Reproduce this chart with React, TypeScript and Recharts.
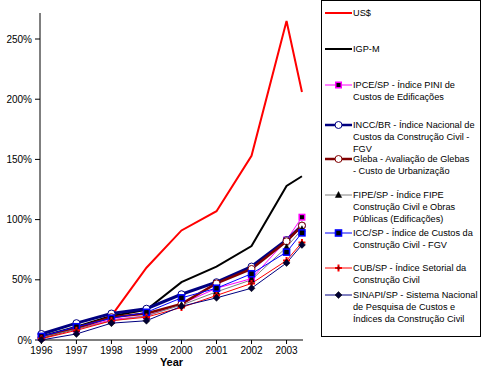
import React from 'react';
import { LineChart, Line, XAxis, YAxis, Legend } from 'recharts';

// ---- data (percent) ----
const YEARS = [1996, 1997, 1998, 1999, 2000, 2001, 2002, 2003, 2003.44];
const X_TICKS = [1996, 1997, 1998, 1999, 2000, 2001, 2002, 2003];
const Y_TICKS = [0, 50, 100, 150, 200, 250];

const USD = [2, 10, 20, 60, 91, 107, 153, 265, 206];
const IGPM = [3, 11, 20, 25, 48, 61, 78, 128, 136];
const IPCE = [2, 9, 17, 20, 30, 43, 51, 83, 102];
const INCC = [5, 14, 22, 26, 38, 48, 61, 83, 95];
const GLEBA = [2, 10, 19, 22, 30, 47, 59, 82, 95];
const FIPE = [2, 9, 16, 20, 29, 40, 50, 77, 92];
const ICC = [3, 11, 18, 23, 35, 43, 55, 73, 89];
const CUB = [1, 8, 16, 19, 27, 37, 47, 66, 81];
const SINAPI = [0, 5, 14, 16, 28, 35, 43, 64, 79];

const NAMES = [
  'US$',
  'IGP-M',
  'IPCE/SP - Índice PINI de\nCustos de Edificações',
  'INCC/BR - Índice Nacional de\nCustos da Construção Civil -\nFGV',
  'Gleba - Avaliação de Glebas\n- Custo de Urbanização',
  'FIPE/SP - Índice FIPE\nConstrução Civil e Obras\nPúblicas (Edificações)',
  'ICC/SP - Índice de Custos da\nConstrução Civil - FGV',
  'CUB/SP - Índice Setorial da\nConstrução Civil',
  'SINAPI/SP - Sistema Nacional\nde Pesquisa de Custos e\nÍndices da Construção Civil',
];

type MarkerKind = 'none' | 'pinkSquare' | 'circle' | 'triangle' | 'blueSquare' | 'cross' | 'diamond';

const SERIES: { key: string; name: string; values: number[]; color: string; width: number; marker: MarkerKind }[] = [
  { key: 'usd', name: NAMES[0], values: USD, color: '#FF0000', width: 2, marker: 'none' },
  { key: 'igpm', name: NAMES[1], values: IGPM, color: '#000000', width: 2, marker: 'none' },
  { key: 'ipce', name: NAMES[2], values: IPCE, color: '#FF00FF', width: 1, marker: 'pinkSquare' },
  { key: 'incc', name: NAMES[3], values: INCC, color: '#000080', width: 3, marker: 'circle' },
  { key: 'gleba', name: NAMES[4], values: GLEBA, color: '#800000', width: 2.5, marker: 'circle' },
  { key: 'fipe', name: NAMES[5], values: FIPE, color: '#808080', width: 1, marker: 'triangle' },
  { key: 'icc', name: NAMES[6], values: ICC, color: '#0000FF', width: 1, marker: 'blueSquare' },
  { key: 'cub', name: NAMES[7], values: CUB, color: '#FF0000', width: 1, marker: 'cross' },
  { key: 'sinapi', name: NAMES[8], values: SINAPI, color: '#000080', width: 1, marker: 'diamond' },
];

const rows = YEARS.map((x, i) => {
  const r: Record<string, number> = { x };
  SERIES.forEach((s) => {
    r[s.key] = s.values[i];
  });
  return r;
});

// legend first-line centres (styling)
const LEGEND_Y = [13, 49, 85, 125, 159, 195, 233, 268, 295];

const FONT = '"Liberation Sans", Arial, sans-serif';

function drawMarker(kind: MarkerKind, cx: number, cy: number, color: string, key?: string) {
  switch (kind) {
    case 'pinkSquare':
      return <rect key={key} x={cx - 2.75} y={cy - 2.75} width={5.5} height={5.5} fill="#000" stroke="#FF00FF" strokeWidth={1.5} />;
    case 'circle':
      return <circle key={key} cx={cx} cy={cy} r={3.5} fill="#fff" stroke={color} strokeWidth={1} />;
    case 'triangle':
      return <polygon key={key} points={`${cx},${cy - 3.5} ${cx + 3.2},${cy + 2.5} ${cx - 3.2},${cy + 2.5}`} fill="#000" stroke="#000" strokeWidth={0.5} />;
    case 'blueSquare':
      return <rect key={key} x={cx - 3} y={cy - 3} width={6} height={6} fill="#000" stroke="#0000FF" strokeWidth={1.6} />;
    case 'cross':
      return (
        <g key={key}>
          <path d={`M${cx - 3.5},${cy} H${cx + 3.5} M${cx},${cy - 3.5} V${cy + 3.5}`} stroke="#FF0000" strokeWidth={2} />
          <polygon points={`${cx},${cy - 2} ${cx + 2},${cy} ${cx},${cy + 2} ${cx - 2},${cy}`} fill="#800000" />
        </g>
      );
    case 'diamond':
      return <polygon key={key} points={`${cx},${cy - 3.5} ${cx + 3.5},${cy} ${cx},${cy + 3.5} ${cx - 3.5},${cy}`} fill="#000033" stroke="#000" strokeWidth={0.5} />;
    default:
      return <g key={key} />;
  }
}

function LegendBox() {
  return (
    <div
      style={{
        position: 'relative',
        boxSizing: 'border-box',
        width: 160,
        height: 337,
        border: '1px solid #000',
        background: '#fff',
        fontFamily: FONT,
        fontSize: 9.2,
        color: '#000',
      }}
    >
      {SERIES.map((s, i) => {
        const cy = LEGEND_Y[i] - 1;
        return (
          <React.Fragment key={s.key}>
            <svg style={{ position: 'absolute', left: 3, top: cy - 6, overflow: 'visible' }} width={27} height={12}>
              <line x1={0} y1={6} x2={27} y2={6} stroke={s.color} strokeWidth={s.width > 2 ? 2.5 : s.width} />
              {drawMarker(s.marker, 13.5, 6, s.color)}
            </svg>
            <div
              style={{
                position: 'absolute',
                left: 31,
                top: cy - 6,
                lineHeight: '12px',
                whiteSpace: 'pre',
              }}
            >
              {s.name}
            </div>
          </React.Fragment>
        );
      })}
    </div>
  );
}

export default function App() {
  return (
    <div style={{ position: 'absolute', left: 0, top: 0, width: 484, height: 377, background: '#fff', fontFamily: FONT }}>
      <LineChart width={484} height={377} data={rows} margin={{ top: 13, right: 181, bottom: 0, left: 0 }}>
        <XAxis
          type="number"
          dataKey="x"
          domain={[1995.96, 2003.47]}
          ticks={X_TICKS}
          interval={0}
          height={37}
          tickSize={4}
          tickMargin={3}
          axisLine={{ stroke: '#000' }}
          tickLine={{ stroke: '#000' }}
          tick={{ fill: '#000', fontSize: 10, fontFamily: FONT }}
          label={{ value: 'Year', position: 'insideBottom', offset: 11, style: { fontWeight: 'bold', fontSize: 11, fill: '#000', fontFamily: FONT } }}
        />
        <YAxis
          type="number"
          domain={[0, 271.6]}
          ticks={Y_TICKS}
          width={40}
          tickSize={5}
          tickMargin={3}
          tickFormatter={(v: number) => `${v}%`}
          axisLine={{ stroke: '#000' }}
          tickLine={{ stroke: '#000' }}
          tick={{ fill: '#000', fontSize: 10, fontFamily: FONT }}
        />
        {SERIES.map((s) => (
          <Line
            key={s.key}
            type="linear"
            dataKey={s.key}
            name={s.name}
            stroke={s.color}
            strokeWidth={s.width}
            isAnimationActive={false}
            activeDot={false}
            dot={
              s.marker === 'none'
                ? false
                : (p: any) => drawMarker(s.marker, p.cx, p.cy, s.color, `${s.key}-${p.index}`)
            }
          />
        ))}
        <Legend
          layout="vertical"
          align="center"
          verticalAlign="middle"
          width={160}
          height={337}
          wrapperStyle={{ left: 321, top: 0, width: 160, height: 337 }}
          content={() => <LegendBox />}
        />
      </LineChart>
    </div>
  );
}
